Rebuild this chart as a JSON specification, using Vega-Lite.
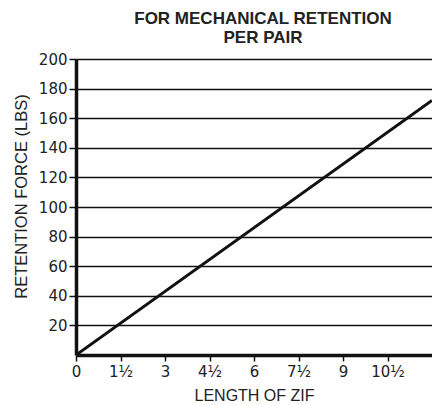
{
  "$schema": "https://vega.github.io/schema/vega-lite/v6.json",
  "width": 356,
  "height": 296,
  "autosize": {"type": "none"},
  "padding": {"left": 76, "top": 59, "right": 0, "bottom": 50},
  "background": "white",
  "title": {
    "text": ["FOR MECHANICAL RETENTION", "PER PAIR"],
    "anchor": "middle",
    "dx": 9,
    "font": "Liberation Sans",
    "fontSize": 17,
    "fontWeight": "bold",
    "color": "#222",
    "lineHeight": 19,
    "offset": 5
  },
  "config": {
    "view": {"stroke": null},
    "axis": {
      "labelFont": "DejaVu Sans",
      "titleFont": "Liberation Sans",
      "labelFontSize": 15,
      "titleFontSize": 16,
      "titleFontWeight": "normal",
      "labelColor": "#222",
      "titleColor": "#222",
      "domainColor": "#111",
      "tickColor": "#111",
      "gridColor": "#111"
    }
  },
  "data": {
    "values": [
      {"length": 0, "force": 0},
      {"length": 12, "force": 172}
    ]
  },
  "layer": [
    {
      "mark": {"type": "line", "color": "#111", "strokeWidth": 3, "clip": true},
      "encoding": {
        "x": {
          "field": "length",
          "type": "quantitative",
          "scale": {"domain": [0, 12], "nice": false},
          "axis": {
            "values": [0, 1.5, 3, 4.5, 6, 7.5, 9, 10.5],
            "labelExpr": "floor(datum.value) + (datum.value % 1 ? '½' : '')",
            "title": "LENGTH OF ZIF",
            "grid": false,
            "domainWidth": 3.5,
            "tickSize": 6,
            "tickWidth": 1.5,
            "labelPadding": 3,
            "titlePadding": 8,
            "labelFlush": false
          }
        },
        "y": {
          "field": "force",
          "type": "quantitative",
          "scale": {"domain": [0, 200], "nice": false},
          "axis": {
            "values": [20, 40, 60, 80, 100, 120, 140, 160, 180, 200],
            "title": "RETENTION FORCE (LBS)",
            "titleFontSize": 16.5,
            "grid": true,
            "gridWidth": 1.5,
            "domainWidth": 3.5,
            "tickSize": 7,
            "tickWidth": 1.5,
            "labelPadding": 2,
            "titlePadding": 9,
            "titleY": 137
          }
        }
      }
    }
  ]
}
